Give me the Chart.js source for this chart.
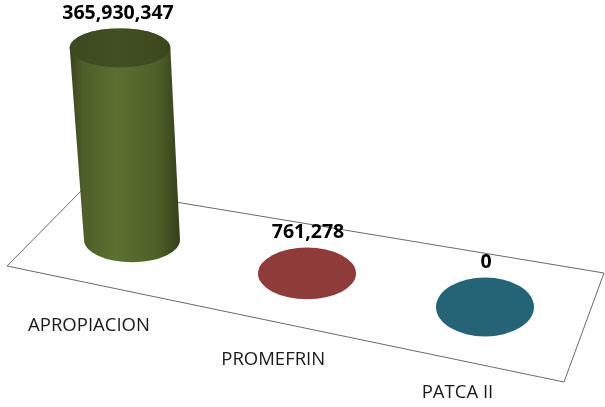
<!DOCTYPE html>
<html>
<head>
<meta charset="utf-8">
<script src="https://cdn.jsdelivr.net/npm/chart.js@4/dist/chart.umd.min.js"></script>
<style>
  html, body { margin: 0; padding: 0; background: #fff; }
</style>
</head>
<body>
<canvas id="chart" width="605" height="407"></canvas>
<script>
const categories = ['APROPIACION', 'PROMEFRIN', 'PATCA II']
const values = [365930347, 761278, 0]
const colors = ['#5a6f2f', '#8e3b3a', '#256476']

// helpers
function shade(hex, f) {
    const n = parseInt(hex.slice(1), 16)
    const r = Math.min(255, Math.round(((n >> 16) & 255) * f))
    const g = Math.min(255, Math.round(((n >> 8) & 255) * f))
    const b = Math.min(255, Math.round((n & 255) * f))
    return 'rgb(' + r + ',' + g + ',' + b + ')'
}

// floor of the 3D chart sits on a slanted line
const baseY = x => 240 + 0.188 * (x - 132)
const radiusY = (x, y) => 19.5 + 0.013 * (y - 47.5) + 0.018 * (x - 120)

const cylinderPlugin = {
    id: 'cylinder3d',
    beforeDatasetsDraw(chart) {
        const ctx = chart.ctx
        ctx.save()
        ctx.beginPath()
        ctx.moveTo(85, 187)
        ctx.lineTo(604, 273)
        ctx.lineTo(564, 382)
        ctx.lineTo(7, 266)
        ctx.closePath()
        ctx.fillStyle = '#fff'
        ctx.fill()
        ctx.strokeStyle = '#6a6a6a'
        ctx.lineWidth = 1
        ctx.stroke()
        ctx.restore()
    },
    afterDatasetsDraw(chart) {
        const ctx = chart.ctx
        const meta = chart.getDatasetMeta(0)
        ctx.save()
        meta.data.forEach((bar, i) => {
            const h = bar.base - bar.y
            const bx = bar.x
            const by = baseY(bx)
            const tx = bx - 0.0623 * h
            const ty = by - h
            const color = colors[i]
            const ryB = radiusY(bx, by)
            const ryT = radiusY(tx, ty)

            if (h > 2) {
                const rxB = 48
                const rxT = 48 + 0.012 * h
                const grad = ctx.createLinearGradient(Math.min(bx - rxB, tx - rxT), 0, Math.max(bx + rxB, tx + rxT), 0)
                grad.addColorStop(0, shade(color, 0.62))
                grad.addColorStop(0.12, shade(color, 0.85))
                grad.addColorStop(0.42, shade(color, 1.02))
                grad.addColorStop(0.8, shade(color, 0.86))
                grad.addColorStop(1, shade(color, 0.58))
                ctx.beginPath()
                ctx.moveTo(bx - rxB, by)
                ctx.ellipse(bx, by, rxB, ryB, 0, Math.PI, 0, true)
                ctx.lineTo(tx + rxT, ty)
                ctx.ellipse(tx, ty, rxT, ryT, 0, 0, Math.PI, true)
                ctx.closePath()
                ctx.fillStyle = grad
                ctx.fill()

                const topGrad = ctx.createLinearGradient(tx - rxT, 0, tx + rxT, 0)
                topGrad.addColorStop(0, shade(color, 0.66))
                topGrad.addColorStop(0.5, shade(color, 0.72))
                topGrad.addColorStop(1, shade(color, 0.64))
                ctx.beginPath()
                ctx.ellipse(tx, ty, rxT, ryT, 0, 0, Math.PI * 2)
                ctx.fillStyle = topGrad
                ctx.fill()
            } else {
                ctx.beginPath()
                ctx.ellipse(bx - 3, by, 49, ryB, 0, 0, Math.PI * 2)
                ctx.fillStyle = color
                ctx.fill()
            }

            // value label
            ctx.fillStyle = '#000'
            ctx.font = 'bold 19.5px "Open Sans"'
            ctx.textAlign = 'center'
            ctx.textBaseline = 'middle'
            ctx.fillText(values[i].toLocaleString('en-US'), tx - 2, ty - ryT - 15)

            // category label
            ctx.fillStyle = '#1a1a1a'
            ctx.font = '18.5px "Open Sans"'
            ctx.fillText(categories[i], bx - 43 + 0.035 * (bx - 132), by + 86)
        })
        ctx.restore()
    }
}

const chart = new Chart(document.getElementById('chart'), {
    type: 'bar',
    data: {
        labels: categories,
        datasets: [{
            data: values,
            backgroundColor: 'rgba(0,0,0,0)',
            borderWidth: 0
        }]
    },
    options: {
        responsive: false,
        animation: false,
        layout: { padding: { left: 43, right: 28, top: 20, bottom: 177 } },
        plugins: { legend: { display: false }, tooltip: { enabled: false } },
        scales: {
            x: { display: false },
            y: { display: false, min: 0, max: 400000000 }
        }
    },
    plugins: [cylinderPlugin]
})
</script>
</body>
</html>
